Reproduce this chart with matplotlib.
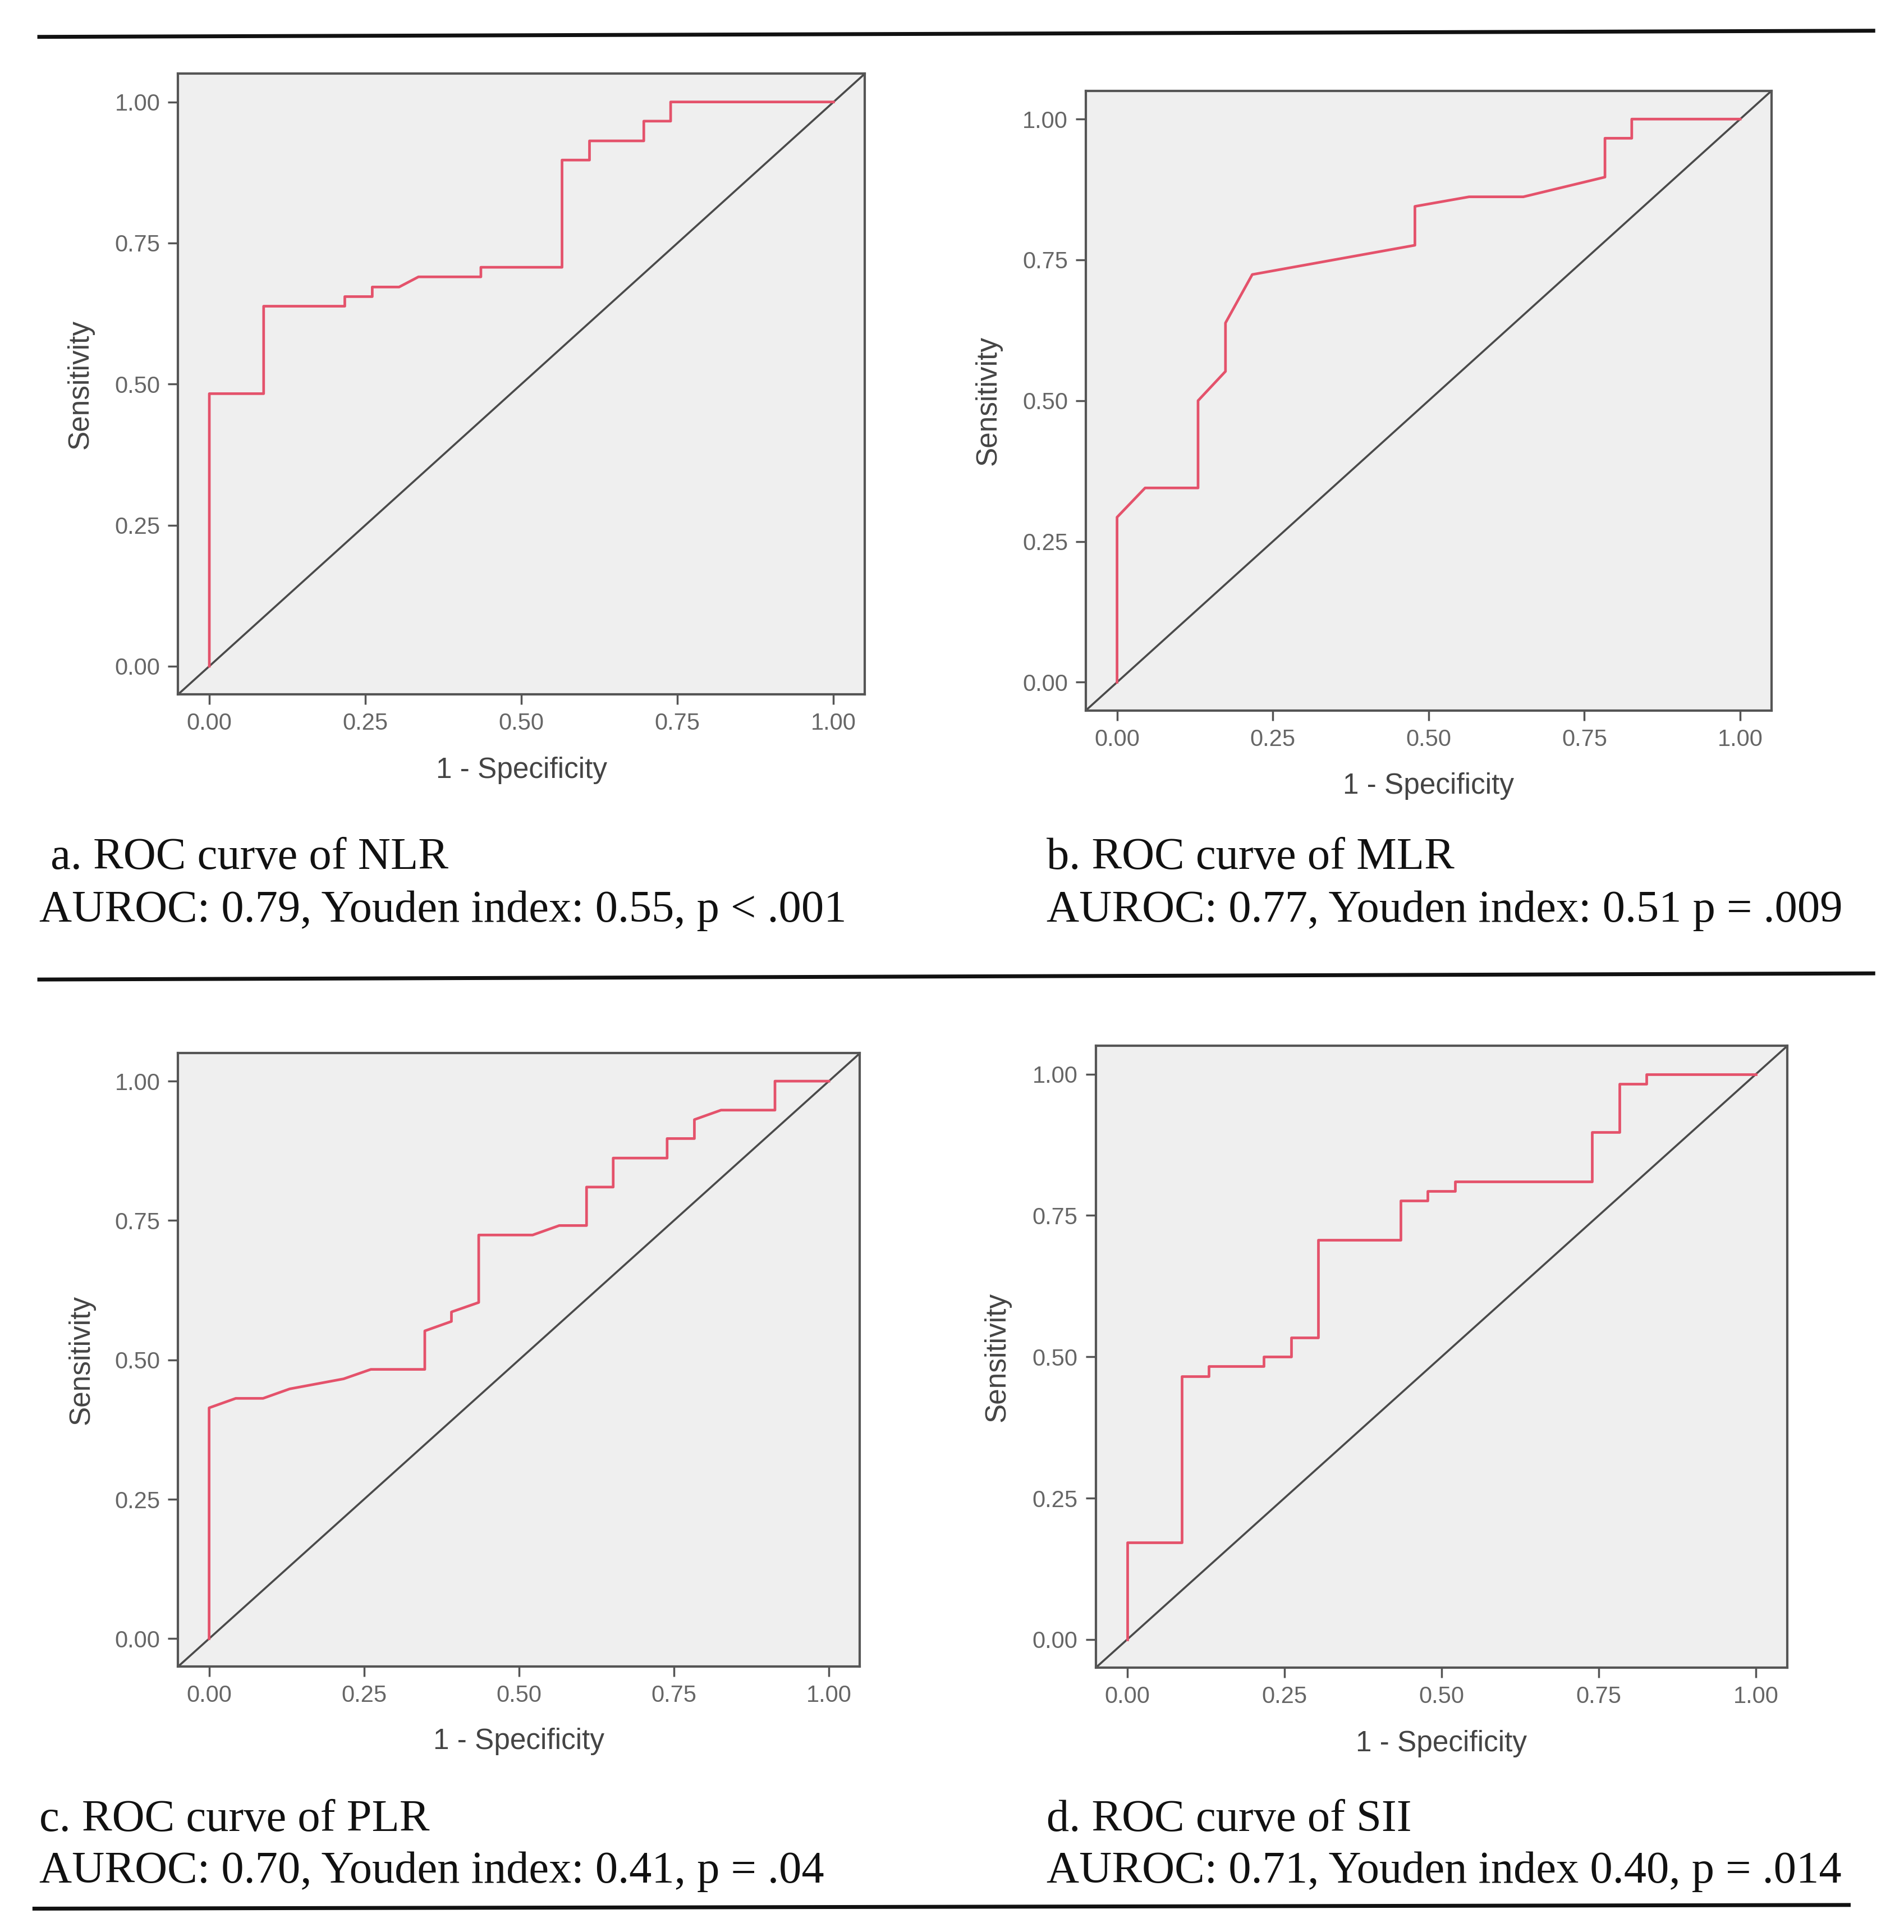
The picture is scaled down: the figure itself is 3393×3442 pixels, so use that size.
import matplotlib
matplotlib.use('Agg')
import matplotlib.pyplot as plt
from matplotlib.lines import Line2D

# ROC curves: 1 - specificity and sensitivity at each vertex
nlr_fpr = [0, 0, 0.087, 0.087, 0.217, 0.217, 0.261, 0.261, 0.304, 0.335, 0.435, 0.435,
           0.565, 0.565, 0.609, 0.609, 0.696, 0.696, 0.739, 0.739, 1.0]
nlr_tpr = [0, 0.483, 0.483, 0.638, 0.638, 0.655, 0.655, 0.672, 0.672, 0.69, 0.69, 0.707,
           0.707, 0.897, 0.897, 0.931, 0.931, 0.966, 0.966, 1.0, 1.0]

mlr_fpr = [0, 0, 0.045, 0.13, 0.13, 0.174, 0.174, 0.217, 0.478, 0.478, 0.565, 0.652,
           0.783, 0.783, 0.826, 0.826, 1.0]
mlr_tpr = [0, 0.293, 0.345, 0.345, 0.5, 0.552, 0.638, 0.724, 0.776, 0.845, 0.862, 0.862,
           0.897, 0.966, 0.966, 1.0, 1.0]

plr_fpr = [0, 0, 0.043, 0.087, 0.13, 0.217, 0.261, 0.348, 0.348, 0.391, 0.391, 0.435,
           0.435, 0.522, 0.565, 0.609, 0.609, 0.652, 0.652, 0.739, 0.739, 0.783, 0.783,
           0.826, 0.913, 0.913, 1.0]
plr_tpr = [0, 0.414, 0.431, 0.431, 0.448, 0.466, 0.483, 0.483, 0.552, 0.569, 0.586, 0.603,
           0.724, 0.724, 0.741, 0.741, 0.81, 0.81, 0.862, 0.862, 0.897, 0.897, 0.931,
           0.948, 0.948, 1.0, 1.0]

sii_fpr = [0, 0, 0.087, 0.087, 0.13, 0.13, 0.217, 0.217, 0.261, 0.261, 0.304, 0.304,
           0.435, 0.435, 0.478, 0.478, 0.522, 0.522, 0.739, 0.739, 0.783, 0.783, 0.826,
           0.826, 1.0]
sii_tpr = [0, 0.172, 0.172, 0.466, 0.466, 0.483, 0.483, 0.5, 0.5, 0.534, 0.534, 0.707,
           0.707, 0.776, 0.776, 0.793, 0.793, 0.81, 0.81, 0.897, 0.897, 0.983, 0.983,
           1.0, 1.0]

titles = [' a. ROC curve of NLR', 'b. ROC curve of MLR',
          'c. ROC curve of PLR', 'd. ROC curve of SII']
stats = ['AUROC: 0.79, Youden index: 0.55, p < .001',
         'AUROC: 0.77, Youden index: 0.51 p = .009',
         'AUROC: 0.70, Youden index: 0.41, p = .04',
         'AUROC: 0.71, Youden index 0.40, p = .014']
ticks = [0.0, 0.25, 0.5, 0.75, 1.0]
tick_labels = ['0.00', '0.25', '0.50', '0.75', '1.00']

curves = [(nlr_fpr, nlr_tpr), (mlr_fpr, mlr_tpr), (plr_fpr, plr_tpr), (sii_fpr, sii_tpr)]

W, H = 1550.0, 1572.0  # layout measured on a 1550 px wide view
boxes = [(145, 60, 704, 565), (884, 74, 1442, 578),
         (145, 857, 700, 1356), (892, 851, 1455, 1357)]
text_xy = [(32, 698, 741), (852, 698, 741), (32, 1481, 1523), (852, 1481, 1523)]

plt.rcParams['font.family'] = ['Liberation Sans', 'DejaVu Sans']
fig = plt.figure(figsize=(33.93, 34.42), dpi=100)
fig.patch.set_facecolor('white')

for (fpr, tpr), (l, t, r, b) in zip(curves, boxes):
    ax = fig.add_axes([l / W, 1 - b / H, (r - l) / W, (b - t) / H])
    ax.set_facecolor('#efefef')
    ax.set_xlim(-0.05, 1.05)
    ax.set_ylim(-0.05, 1.05)
    ax.axline((0, 0), (1, 1), color='#4a4a4a', lw=2.6, zorder=2)
    ax.plot(fpr, tpr, color='#e4526b', lw=3.4, zorder=3)
    ax.set_xticks(ticks)
    ax.set_xticklabels(tick_labels)
    ax.set_yticks(ticks)
    ax.set_yticklabels(tick_labels)
    ax.tick_params(length=13, width=2.5, color='#555555', labelsize=30,
                   labelcolor='#666666', pad=10)
    for sp in ax.spines.values():
        sp.set_color('#555555')
        sp.set_linewidth(3)
    ax.set_xlabel('1 - Specificity', fontsize=37, color='#444444')
    ax.set_ylabel('Sensitivity', fontsize=37, color='#444444')
    ax.xaxis.label.set_va('center')
    ax.yaxis.label.set_va('center')
    ax.xaxis.set_label_coords(0.5, -0.122)
    ax.yaxis.set_label_coords(-0.142, 0.5)

for (x, y1, y2), t1, t2 in zip(text_xy, titles, stats):
    fig.text(x / W, 1 - y1 / H, t1, family='Liberation Serif', fontsize=58,
             va='center', ha='left', color='#111111')
    fig.text(x / W, 1 - y2 / H, t2, family='Liberation Serif', fontsize=58,
             va='center', ha='left', color='#111111')

# horizontal rules of the table layout
for x0, y0, x1, y1 in [(32, 30, 1525, 25), (32, 797, 1525, 792), (28, 1553, 1505, 1550)]:
    fig.add_artist(Line2D([x0 / W, x1 / W], [1 - y0 / H, 1 - y1 / H],
                          color='#111111', lw=5, transform=fig.transFigure))

fig.savefig('out.png', dpi=100)
